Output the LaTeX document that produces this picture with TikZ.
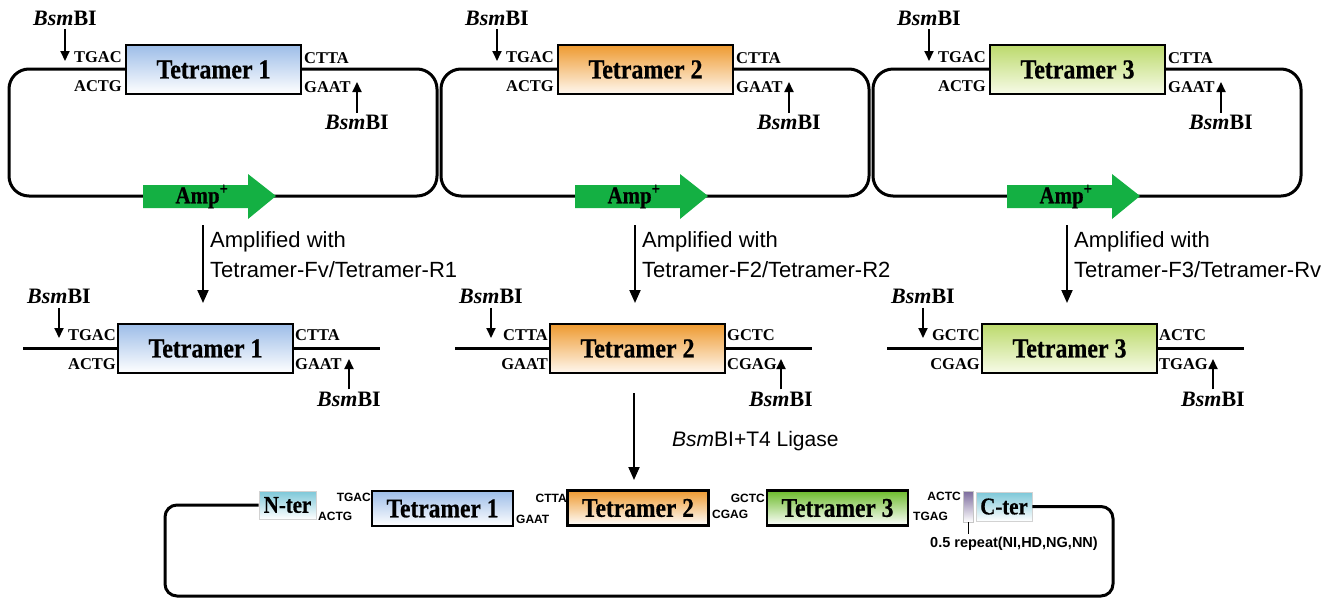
\documentclass[tikz,border=0pt]{standalone}
\usepackage{fontspec}
\setmainfont{Liberation Serif}
\setsansfont{Liberation Sans}
\newfontfamily\condserif[FakeStretch=0.87,FakeBold=0.6]{Liberation Serif}
\usetikzlibrary{arrows.meta,calc}
\definecolor{t1top}{HTML}{9DBDE8}
\definecolor{t2top}{HTML}{EE9A30}
\definecolor{t2bot}{HTML}{FFF8F0}
\definecolor{t3top}{HTML}{BCDA6C}
\definecolor{t3bot}{HTML}{F7FBE8}
\definecolor{t3dark}{HTML}{6CBB2A}
\definecolor{ampg}{HTML}{14B043}
\definecolor{nterc}{HTML}{7CC7D8}
\definecolor{repc}{HTML}{7B6A9C}
\tikzset{
  tbox/.style={draw, line width=2.5pt, minimum width=175pt, minimum height=49pt, inner sep=0pt,
    font=\condserif\fontsize{27.5}{27.5}\selectfont\bfseries},
  bbox/.style={draw, line width=2.5pt, minimum width=141pt, minimum height=35pt, inner sep=0pt,
    font=\condserif\fontsize{27}{27}\selectfont\bfseries},
  seqt/.style={font=\fontsize{16.5}{16.5}\selectfont\bfseries, inner sep=0pt},
  seqs/.style={font=\sffamily\fontsize{12}{12}\selectfont\bfseries, inner sep=0pt},
  bsm/.style={font=\fontsize{22}{22}\selectfont\bfseries, inner sep=0pt},
  lbl/.style={font=\sffamily\fontsize{22}{22}\selectfont, inner sep=0pt},
  dna/.style={line width=3pt},
  cutarrow/.style={line width=1.8pt, -{Triangle[length=10pt,width=9pt]}},
  flow/.style={line width=2pt, -{Triangle[length=13pt,width=11pt]}},
  endbox/.style={draw=gray!35, line width=0.6pt, inner sep=0pt, bottom color=white,
    font=\condserif\fontsize{24}{24}\selectfont\bfseries},
}
\begin{document}
\begin{tikzpicture}[x=1pt,y=-1pt]
\useasboundingbox (0,0) rectangle (1333,598);
% ---------- top plasmids ----------
\foreach \i/\tc/\bc in {1/t1top/white,2/t2top/t2bot,3/t3top/t3bot}{
  \begin{scope}[xshift={(\i-1)*432pt}]
    \draw[dna, rounded corners=20pt] (9,69) rectangle (437,196);
    \node[tbox, top color=\tc, bottom color=\bc] (P\i) at (213.5,69.5) {Tetramer \i};
    \node[seqt, anchor=base east] (ptl\i) at (122,62.7) {TGAC};
    \node[seqt, anchor=base east] (pbl\i) at (122,91.7) {ACTG};
    \node[seqt, anchor=base west] (ptr\i) at (304,63) {CTTA};
    \node[seqt, anchor=base west] (pbr\i) at (304,92.5) {GAAT};
    \node[bsm, anchor=base] (pbs\i) at (65,25) {\textit{Bsm}BI};
    \coordinate (pbsc\i) at (65,61);
    \draw[cutarrow, shorten <=4pt] (pbs\i.south) -- (pbsc\i);
    \node[bsm, anchor=base] (pbb\i) at (357,129.3) {\textit{Bsm}BI};
    \coordinate (pbbc\i) at (357,82);
    \draw[cutarrow, shorten <=2pt] (pbb\i.north) -- (pbbc\i);
    \fill[ampg] (143,185) -- (248,185) -- (248,174) -- (276,196) -- (248,219) -- (248,208) -- (143,208) -- cycle;
    \node[font=\condserif\fontsize{24}{24}\selectfont\bfseries, anchor=base, inner sep=0pt] (amp\i) at (202,203.3) {Amp\textsuperscript{+}};
  \end{scope}
}
% ---------- amplification arrows and fragments ----------
\foreach \i/\tc/\bc/\la/\lb/\ra/\rb/\pf in {
  1/t1top/white/TGAC/ACTG/CTTA/GAAT/Fv\slash Tetramer-R1,
  2/t2top/t2bot/CTTA/GAAT/GCTC/CGAG/F2\slash Tetramer-R2,
  3/t3top/t3bot/GCTC/CGAG/ACTC/TGAG/F3\slash Tetramer-Rv}{
  \begin{scope}[xshift={(\i-1)*432pt}]
    \coordinate (as\i) at (203,225);
    \coordinate (ae\i) at (203,303);
    \draw[flow] (as\i) -- (ae\i);
    \node[lbl, anchor=base west] (am\i) at (210,247) {Amplified with};
    \node[lbl, anchor=base west] (pr\i) at (210,277) {Tetramer-\pf};
    \draw[dna] (23,348) -- (380,348);
    \node[tbox, top color=\tc, bottom color=\bc] (F\i) at (205.5,348.5) {Tetramer \i};
    \node[seqt, anchor=base east] (ftl\i) at (116,340.7) {\la};
    \node[seqt, anchor=base east] (fbl\i) at (116,369.3) {\lb};
    \node[seqt, anchor=base west] (ftr\i) at (295,340.7) {\ra};
    \node[seqt, anchor=base west] (fbr\i) at (295,369.3) {\rb};
    \node[bsm, anchor=base] (fbs\i) at (59,303.5) {\textit{Bsm}BI};
    \coordinate (fbsc\i) at (59,338);
    \draw[cutarrow, shorten <=4pt] (fbs\i.south) -- (fbsc\i);
    \node[bsm, anchor=base] (fbb\i) at (349,406) {\textit{Bsm}BI};
    \coordinate (fbbc\i) at (349,359);
    \draw[cutarrow, shorten <=2pt] (fbb\i.north) -- (fbbc\i);
  \end{scope}
}
% ---------- ligation arrow ----------
\coordinate (ls) at (634,393);
\coordinate (le) at (634,480);
\draw[flow] (ls) -- (le);
\node[lbl, font=\sffamily\fontsize{21}{21}\selectfont, anchor=base west] (lig) at (672,446.7) {\textit{Bsm}BI+T4 Ligase};
% ---------- final construct ----------
\node[endbox, top color=nterc, minimum width=57pt, minimum height=28pt] (nter) at (287.5,505) {N-ter};
\node[endbox, top color=nterc, minimum width=56pt, minimum height=29pt] (cter) at (1004,506.5) {C-ter};
\node[draw=gray!45, line width=0.6pt, top color=repc, bottom color=white, minimum width=10pt, minimum height=31pt, inner sep=0pt] (rep) at (968,506.5) {};
\draw[dna, rounded corners=12pt] (nter.west) -- (165,505) -- (165,596) -- (1113,596) -- (1113,506.5) -- (cter.east);
\node[bbox, top color=t1top, bottom color=white] (B1) at (442.5,508.5) {Tetramer 1};
\node[bbox, top color=t2top, bottom color=white] (B2) at (638,508) {Tetramer 2};
\node[bbox, top color=t3dark, bottom color=white] (B3) at (837.5,508) {Tetramer 3};
\node[seqs, anchor=base east] (s1) at (371,501.5) {TGAC};
\node[seqs, anchor=base west] (s2) at (318,520.5) {ACTG};
\node[seqs, anchor=base east] (s3) at (567,502.5) {CTTA};
\node[seqs, anchor=base west] (s4) at (516,523.5) {GAAT};
\node[seqs, anchor=base east] (s5) at (765,502.5) {GCTC};
\node[seqs, anchor=base west] (s6) at (712,518.5) {CGAG};
\node[seqs, anchor=base east] (s7) at (961,500.5) {ACTC};
\node[seqs, anchor=base west] (s8) at (913,520.5) {TGAG};
\node[font=\sffamily\fontsize{14.5}{14.5}\selectfont\bfseries, inner sep=0pt, anchor=base west] (replbl) at (930,547.2) {0.5 repeat(NI,HD,NG,NN)};
\coordinate (repe) at (968,534);
\draw[line width=1pt] (rep.south) -- (repe);
\end{tikzpicture}
\end{document}
